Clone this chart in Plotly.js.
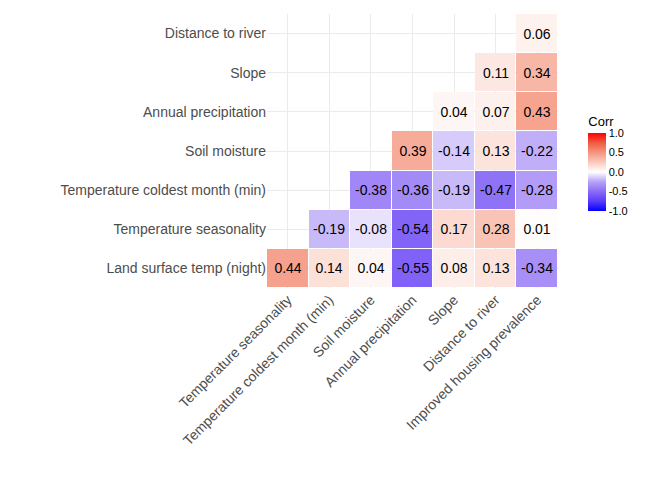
<!DOCTYPE html>
<html>
<head>
<script src="https://cdn.plot.ly/plotly-3.0.1.min.js"></script>
</head>
<body style="margin:0">
<div id="myDiv" style="width:672px;height:480px"></div>
<script>
var xLabels = ['Temperature seasonality', 'Temperature coldest month (min)', 'Soil moisture',
  'Annual precipitation', 'Slope', 'Distance to river', 'Improved housing prevalence'];
var yLabels = ['Land surface temp (night)', 'Temperature seasonality', 'Temperature coldest month (min)',
  'Soil moisture', 'Annual precipitation', 'Slope', 'Distance to river'];

var rowLand = [0.44, 0.14, 0.04, -0.55, 0.08, 0.13, -0.34];
var rowSeason = [null, -0.19, -0.08, -0.54, 0.17, 0.28, 0.01];
var rowColdest = [null, null, -0.38, -0.36, -0.19, -0.47, -0.28];
var rowSoil = [null, null, null, 0.39, -0.14, 0.13, -0.22];
var rowPrecip = [null, null, null, null, 0.04, 0.07, 0.43];
var rowSlope = [null, null, null, null, null, 0.11, 0.34];
var rowRiver = [null, null, null, null, null, null, 0.06];

var z = [rowLand, rowSeason, rowColdest, rowSoil, rowPrecip, rowSlope, rowRiver];

// Lab-like blue-white-red, as ggplot's gradient2
var scale = [
  [0, '#0000FF'], [0.125, '#5A3BFA'], [0.25, '#8A6CF7'], [0.375, '#B7A3F7'],
  [0.5, '#FFFFFF'],
  [0.625, '#FAC9BC'], [0.75, '#F4957F'], [0.875, '#F05B40'], [1, '#FF0000']
];

var heat = {
  type: 'heatmap',
  x: xLabels,
  y: yLabels,
  z: z,
  zmin: -1, zmax: 1,
  colorscale: scale,
  xgap: 1, ygap: 1,
  texttemplate: '%{z:.2f}',
  textfont: {size: 14, color: '#000000', family: 'Liberation Sans, Arial'},
  hoverongaps: false,
  colorbar: {
    title: {text: 'Corr', font: {size: 13, color: '#000'}},
    x: 1.07, xanchor: 'left',
    y: 0.46, yanchor: 'middle',
    len: 0.43, thickness: 18,
    outlinewidth: 0,
    tickvals: [-1, -0.5, 0, 0.5, 1],
    ticktext: ['-1.0', '-0.5', '0.0', '0.5', '1.0'],
    tickfont: {size: 11, color: '#000'},
    ticks: ''
  }
};

var layout = {
  width: 672, height: 480,
  margin: {l: 267, r: 114, t: 14, b: 192},
  paper_bgcolor: '#fff',
  plot_bgcolor: '#fff',
  font: {family: 'Liberation Sans, Arial', color: '#4d4d4d'},
  xaxis: {
    tickangle: -45, tickfont: {size: 14, color: '#4d4d4d'},
    showgrid: true, gridcolor: '#ebebeb', zeroline: false, ticks: ''
  },
  yaxis: {
    tickfont: {size: 14, color: '#4d4d4d'},
    showgrid: true, gridcolor: '#ebebeb', zeroline: false, ticks: ''
  }
};

Plotly.newPlot('myDiv', [heat], layout, {displayModeBar: false});
</script>
</body>
</html>
